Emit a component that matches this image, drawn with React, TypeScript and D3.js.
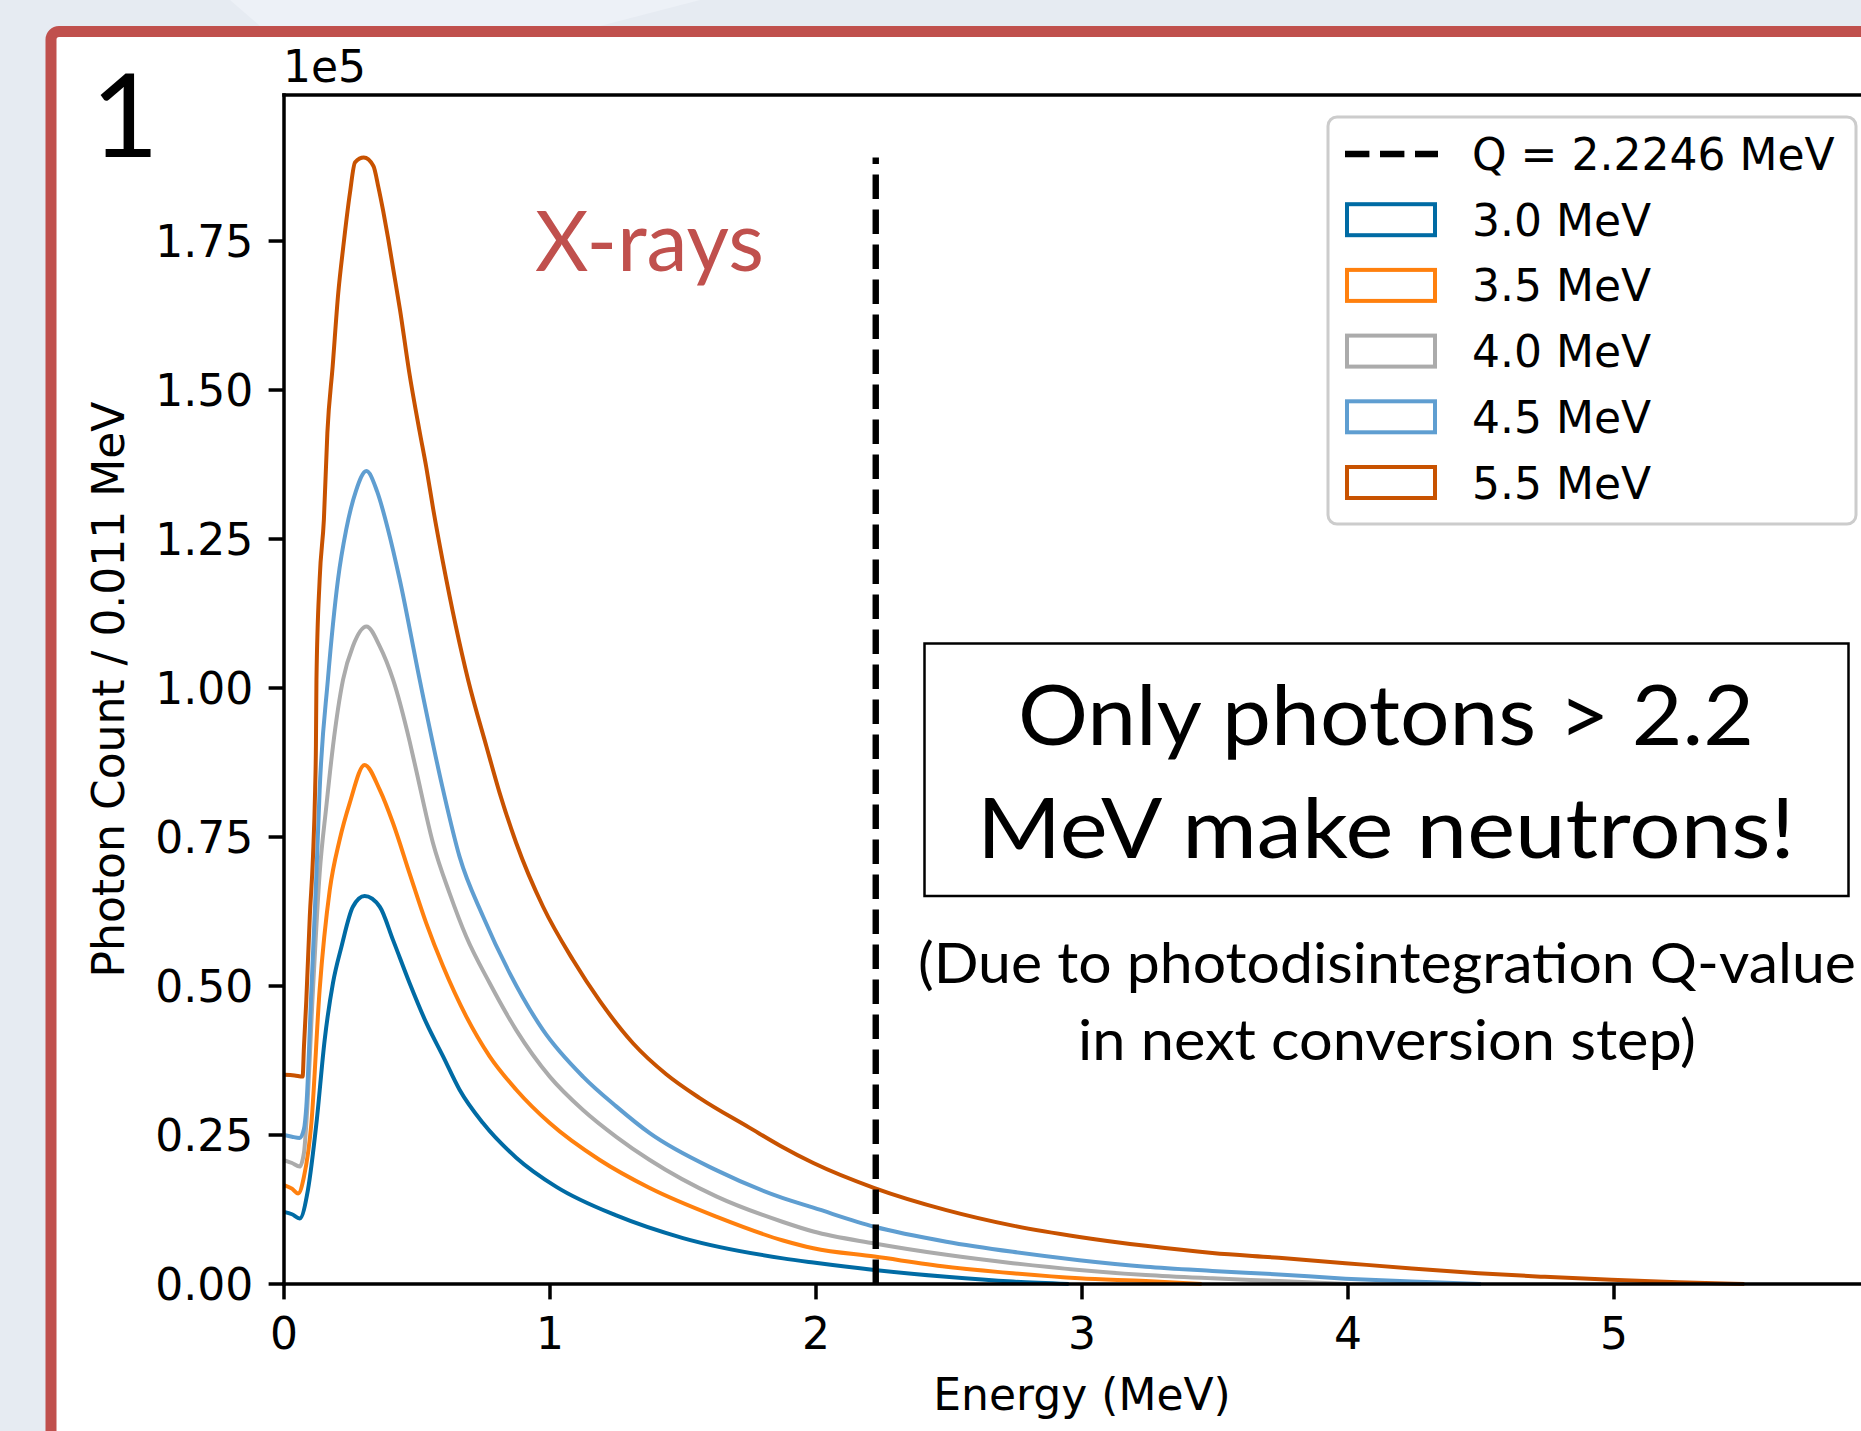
import React from "react";
import * as d3 from "d3";

// ---------- data (counts in units of 1e5 per 0.011 MeV bin) ----------
const E_30 = [0, 0.03, 0.059, 0.09, 0.122, 0.153, 0.184, 0.216, 0.259, 0.303, 0.36, 0.41, 0.472, 0.535, 0.598, 0.66, 0.748, 0.873, 1.024, 1.249, 1.5, 1.876, 1.99, 2.22, 2.49, 2.74, 2.95];
const C_30 = [0.121, 0.117, 0.11, 0.158, 0.27, 0.41, 0.505, 0.566, 0.633, 0.651, 0.633, 0.577, 0.505, 0.438, 0.382, 0.326, 0.27, 0.212, 0.163, 0.115, 0.077, 0.043, 0.036, 0.0235, 0.012, 0.004, 0];

const E_35 = [0, 0.03, 0.053, 0.075, 0.103, 0.134, 0.172, 0.209, 0.247, 0.303, 0.36, 0.41, 0.472, 0.535, 0.598, 0.685, 0.773, 0.873, 0.999, 1.187, 1.375, 1.625, 1.876, 1.99, 2.22, 2.49, 2.74, 2.99, 3.24, 3.45];
const C_35 = [0.166, 0.16, 0.152, 0.18, 0.27, 0.494, 0.661, 0.745, 0.807, 0.871, 0.829, 0.773, 0.689, 0.605, 0.533, 0.449, 0.382, 0.326, 0.27, 0.208, 0.161, 0.113, 0.073, 0.06, 0.046, 0.029, 0.018, 0.0095, 0.005, 0];

const E_40 = [0, 0.03, 0.059, 0.075, 0.084, 0.109, 0.134, 0.159, 0.184, 0.222, 0.259, 0.31, 0.36, 0.41, 0.4725, 0.497, 0.56, 0.623, 0.685, 0.773, 0.873, 0.999, 1.124, 1.249, 1.375, 1.625, 1.876, 1.99, 2.22, 2.49, 2.74, 2.99, 3.24, 3.49, 3.74, 4.0];
const C_40 = [0.208, 0.203, 0.197, 0.22, 0.27, 0.494, 0.689, 0.801, 0.902, 1.014, 1.07, 1.103, 1.07, 1.014, 0.91, 0.862, 0.74, 0.655, 0.583, 0.505, 0.426, 0.348, 0.292, 0.247, 0.208, 0.147, 0.104, 0.088, 0.068, 0.049, 0.035, 0.0235, 0.015, 0.0095, 0.005, 0];

const E_45 = [0, 0.03, 0.059, 0.075, 0.084, 0.103, 0.122, 0.134, 0.165, 0.203, 0.234, 0.27, 0.31, 0.35, 0.391, 0.435, 0.51, 0.598, 0.66, 0.748, 0.848, 0.974, 1.124, 1.249, 1.375, 1.625, 1.876, 1.99, 2.22, 2.49, 2.74, 2.99, 3.24, 3.49, 3.74, 3.99, 4.24, 4.5];
const C_45 = [0.25, 0.247, 0.245, 0.26, 0.298, 0.494, 0.689, 0.829, 1.014, 1.182, 1.266, 1.33, 1.364, 1.33, 1.266, 1.182, 1.014, 0.829, 0.717, 0.617, 0.522, 0.426, 0.348, 0.298, 0.253, 0.191, 0.144, 0.128, 0.096, 0.071, 0.054, 0.04, 0.029, 0.022, 0.016, 0.009, 0.004, 0];

const E_55 = [0, 0.04, 0.07, 0.075, 0.084, 0.097, 0.109, 0.117, 0.12, 0.122, 0.134, 0.15, 0.163, 0.183, 0.204, 0.223, 0.248, 0.267, 0.3, 0.336, 0.355, 0.373, 0.392, 0.411, 0.436, 0.47, 0.51, 0.535, 0.561, 0.598, 0.692, 0.761, 0.81, 0.873, 0.974, 1.086, 1.187, 1.312, 1.437, 1.563, 1.751, 1.865, 1.99, 2.22, 2.49, 2.74, 2.99, 3.24, 3.49, 3.74, 3.99, 4.24, 4.49, 4.74, 4.99, 5.24, 5.49];
const C_55 = [0.351, 0.35, 0.348, 0.398, 0.477, 0.617, 0.717, 0.829, 0.902, 1.014, 1.182, 1.283, 1.428, 1.54, 1.663, 1.741, 1.831, 1.882, 1.89, 1.876, 1.84, 1.8, 1.753, 1.702, 1.635, 1.532, 1.43, 1.37, 1.3, 1.21, 1.014, 0.902, 0.825, 0.74, 0.633, 0.544, 0.475, 0.404, 0.352, 0.312, 0.262, 0.232, 0.203, 0.161, 0.124, 0.098, 0.079, 0.064, 0.052, 0.044, 0.035, 0.026, 0.018, 0.012, 0.007, 0.003, 0];

const SERIES_LABELS = ["3.0 MeV", "3.5 MeV", "4.0 MeV", "4.5 MeV", "5.5 MeV"];
const SERIES_COLORS = ["#006BA4", "#FF800E", "#ABABAB", "#5F9ED1", "#C85200"];
const SERIES_E = [E_30, E_35, E_40, E_45, E_55];
const SERIES_C = [C_30, C_35, C_40, C_45, C_55];

const Q_VALUE = 2.2246;
const Q_LABEL = "Q = 2.2246 MeV";

const X_TICKS = [0, 1, 2, 3, 4, 5];
const X_TICK_LABELS = ["0", "1", "2", "3", "4", "5"];
const Y_TICKS = [0, 0.25, 0.5, 0.75, 1.0, 1.25, 1.5, 1.75];
const Y_TICK_LABELS = ["0.00", "0.25", "0.50", "0.75", "1.00", "1.25", "1.50", "1.75"];

const W = 1861;
const H = 1431;
const MPL = "'DejaVu Sans', sans-serif";
const SLIDE = "Lato, 'Open Sans', sans-serif";
const RED = "#C0504D";

export default function App() {
  const x = d3.scaleLinear().domain([0, 6]).range([284, 1880]);
  const y = d3.scaleLinear().domain([0, 1.995]).range([1284, 95]);
  const line = d3
    .line<[number, number]>()
    .x((d) => x(d[0]))
    .y((d) => y(d[1]))
    .curve(d3.curveMonotoneX);

  const series = SERIES_LABELS.map((label, i) => ({
    label,
    color: SERIES_COLORS[i],
    pts: SERIES_E[i].map((e, j) => [e, SERIES_C[i][j]] as [number, number]),
  }));
  const peak = d3.max(C_55) as number;

  const tickLen = 15.4;
  const axisW = 3.5;
  const fs = 44;

  const legX = 1328;
  const legY = 117;
  const rowY = (i: number) => 154 + i * 65.7;

  return (
    <svg
      width={W}
      height={H}
      viewBox={`0 0 ${W} ${H}`}
      style={{ position: "absolute", left: 0, top: 0, display: "block" }}
    >
      {/* slide background */}
      <rect x={0} y={0} width={W} height={H} fill="#e6ebf2" />
      <path d="M230,0 L700,0 L600,26 L260,26 Z" fill="#edf1f7" />
      {/* red framed panel */}
      <rect x={51} y={31.5} width={W + 40} height={H + 40} rx={8} fill="#ffffff" stroke={RED} strokeWidth={11} />

      {/* panel number */}
      <text x={91} y={157} fontFamily={SLIDE} fontSize={117} fill="#000">1</text>

      {/* series */}
      {series.map((s) => (
        <path key={s.label} d={line(s.pts) || ""} fill="none" stroke={s.color} strokeWidth={4} strokeLinejoin="round" />
      ))}

      {/* Q-value line */}
      <line
        x1={x(Q_VALUE)}
        x2={x(Q_VALUE)}
        y1={y(0)}
        y2={y(peak)}
        stroke="#000"
        strokeWidth={6.4}
        strokeDasharray="24.4 10.6"
      />

      {/* spines */}
      <line x1={284} x2={284} y1={95} y2={1284} stroke="#000" strokeWidth={axisW} strokeLinecap="square" />
      <line x1={284} x2={1880} y1={1284} y2={1284} stroke="#000" strokeWidth={axisW} strokeLinecap="square" />
      <line x1={284} x2={1880} y1={95} y2={95} stroke="#000" strokeWidth={axisW} strokeLinecap="square" />
      <line x1={1880} x2={1880} y1={95} y2={1284} stroke="#000" strokeWidth={axisW} />

      {/* y ticks */}
      {Y_TICKS.map((t, i) => (
        <g key={"y" + t}>
          <line x1={x(0) - tickLen} x2={x(0)} y1={y(t)} y2={y(t)} stroke="#000" strokeWidth={axisW} />
          <text x={x(0) - tickLen - 15.4} y={y(t) + 16} textAnchor="end" fontFamily={MPL} fontSize={fs} fill="#000">
            {Y_TICK_LABELS[i]}
          </text>
        </g>
      ))}
      {/* x ticks */}
      {X_TICKS.map((t, i) => (
        <g key={"x" + t}>
          <line x1={x(t)} x2={x(t)} y1={y(0)} y2={y(0) + tickLen} stroke="#000" strokeWidth={axisW} />
          <text x={x(t)} y={1349} textAnchor="middle" fontFamily={MPL} fontSize={fs} fill="#000">
            {X_TICK_LABELS[i]}
          </text>
        </g>
      ))}

      {/* offset text */}
      <text x={283} y={82} fontFamily={MPL} fontSize={fs} fill="#000">1e5</text>

      {/* axis labels */}
      <text x={1082} y={1410} textAnchor="middle" fontFamily={MPL} fontSize={fs} fill="#000">Energy (MeV)</text>
      <text
        transform={`translate(124, 689.5) rotate(-90)`}
        textAnchor="middle"
        fontFamily={MPL}
        fontSize={fs}
        fill="#000"
      >
        Photon Count / 0.011 MeV
      </text>

      {/* legend */}
      <rect x={legX} y={legY} width={528} height={407} rx={9} fill="#ffffff" fillOpacity={0.8} stroke="#cccccc" strokeWidth={3} />
      <line x1={1345} x2={1438} y1={rowY(0)} y2={rowY(0)} stroke="#000" strokeWidth={6.4} strokeDasharray="24.4 10.6" />
      <text x={1472} y={rowY(0) + 16} fontFamily={MPL} fontSize={fs} fill="#000">{Q_LABEL}</text>
      {series.map((s, i) => (
        <g key={"leg" + s.label}>
          <rect x={1347} y={rowY(i + 1) - 15.5} width={88} height={31} fill="#ffffff" stroke={s.color} strokeWidth={4} />
          <text x={1472} y={rowY(i + 1) + 16} fontFamily={MPL} fontSize={fs} fill="#000">{s.label}</text>
        </g>
      ))}

      {/* annotations */}
      <text x={535} y={271} fontFamily={SLIDE} fontSize={84} fill={RED} textLength={229} lengthAdjust="spacingAndGlyphs">X-rays</text>

      <rect x={924.5} y={643.5} width={924} height={252.5} fill="#ffffff" stroke="#000" strokeWidth={2.5} />
      <text x={1386} y={745} textAnchor="middle" fontFamily={SLIDE} fontSize={84} fill="#000" textLength={736} lengthAdjust="spacingAndGlyphs">
        Only photons &gt; 2.2
      </text>
      <text x={1386} y={858} textAnchor="middle" fontFamily={SLIDE} fontSize={84} fill="#000" textLength={818} lengthAdjust="spacingAndGlyphs">
        MeV make neutrons!
      </text>
      <text x={1387} y={983} textAnchor="middle" fontFamily={SLIDE} fontSize={57} fill="#000" textLength={938} lengthAdjust="spacingAndGlyphs">
        (Due to photodisintegration Q-value
      </text>
      <text x={1387} y={1060} textAnchor="middle" fontFamily={SLIDE} fontSize={57} fill="#000" textLength={618} lengthAdjust="spacingAndGlyphs">
        in next conversion step)
      </text>
    </svg>
  );
}
